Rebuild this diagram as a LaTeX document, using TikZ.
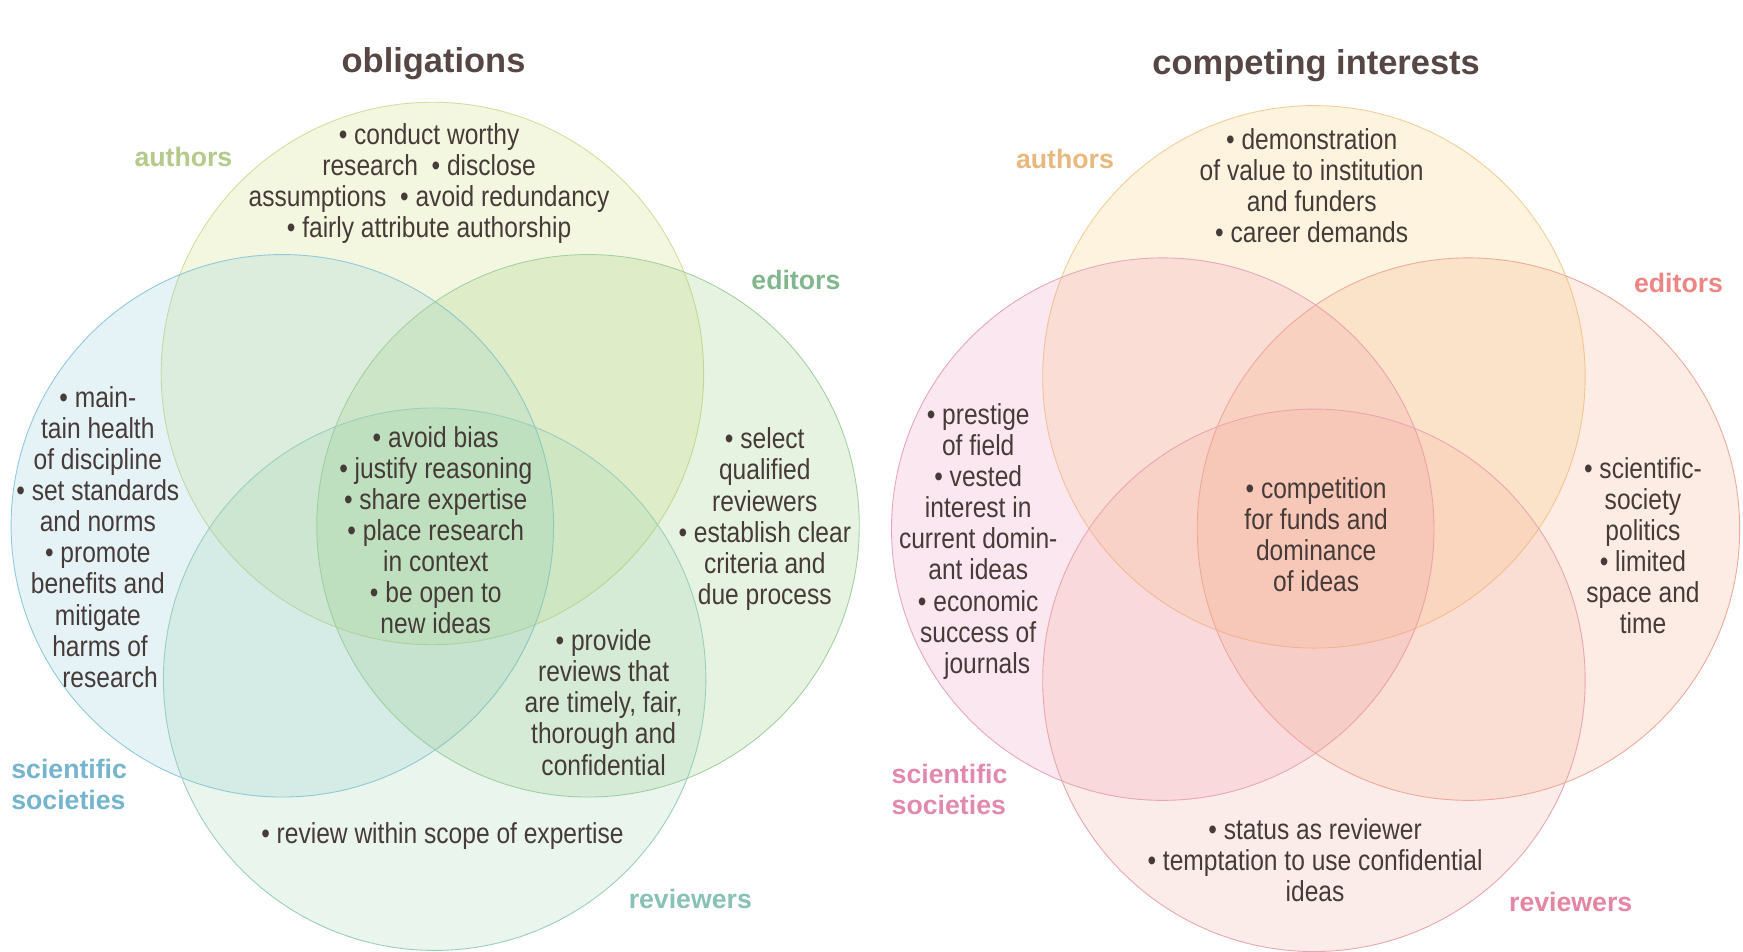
\documentclass[tikz,border=0pt]{standalone}
\usepackage{fontspec}
\setmainfont{Liberation Sans}
\newfontfamily\condfont{Liberation Sans}[FakeStretch=0.85]
% text colours
\definecolor{txt}{HTML}{463B38}
\definecolor{ttlc}{HTML}{574744}
% left diagram
\definecolor{fAL}{HTML}{C7D75B}\definecolor{dAL}{HTML}{D3DE9C}\definecolor{lAL}{HTML}{B5C98A}
\definecolor{fSL}{HTML}{7CC2D2}\definecolor{dSL}{HTML}{8FCADC}\definecolor{lSL}{HTML}{74B4CD}
\definecolor{fEL}{HTML}{83C363}\definecolor{dEL}{HTML}{A3D1A1}\definecolor{lEL}{HTML}{82B78D}
\definecolor{fRL}{HTML}{8BCBA3}\definecolor{dRL}{HTML}{9ACFBE}\definecolor{lRL}{HTML}{88C1B7}
% right diagram
\definecolor{fAR}{HTML}{F5C056}\definecolor{dAR}{HTML}{F3CF97}\definecolor{lAR}{HTML}{E8B97F}
\definecolor{fSR}{HTML}{EE82AE}\definecolor{dSR}{HTML}{E9A6C0}\definecolor{lSR}{HTML}{E389B0}
\definecolor{fER}{HTML}{F59E6E}\definecolor{dER}{HTML}{EFAA9C}\definecolor{lER}{HTML}{EC8584}
\definecolor{fRR}{HTML}{F29E8E}\definecolor{dRR}{HTML}{EAA6B2}\definecolor{lRR}{HTML}{E486A3}
\tikzset{
  disc/.style={circle, minimum size=488pt, inner sep=0pt, line width=0.8pt, fill opacity=0.19},
  body/.style={font=\condfont\fontsize{26}{28}\selectfont, text=txt, align=center, inner sep=0pt},
  lab/.style={font=\bfseries\fontsize{24}{28}\selectfont, inner sep=0pt, align=left},
  ttl/.style={font=\bfseries\fontsize{31}{36}\selectfont, text=ttlc, inner sep=0pt},
}
\begin{document}
\begin{tikzpicture}[x=1pt,y=-1pt]
\useasboundingbox[fill=white] (0,0) rectangle (1568,856);

% ---------- left diagram: obligations ----------
\node[disc, fill=fAL, draw=dAL] (aL) at (389,336) {};
\node[disc, fill=fSL, draw=dSL] (sL) at (254,473) {};
\node[disc, fill=fEL, draw=dEL] (eL) at (529,473) {};
\node[disc, fill=fRL, draw=dRL] (rL) at (391,611) {};

\node[ttl] (tiL) at (390,57) {obligations};
\node[lab, text=lAL] (laL) at (165,141) {authors};
\node[lab, text=lEL] (leL) at (716,252) {editors};
\node[lab, text=lSL, anchor=west] (lsL) at (10,706) {scientific\\societies};
\node[lab, text=lRL] (lrL) at (621,809) {reviewers};

\node[body] (xaL) at (386,165) {• conduct worthy\\research~~• disclose\\assumptions~~• avoid redundancy\\• fairly attribute authorship};
\node[body] (xsL) at (88,483) {• main-\\tain health\\of discipline\\• set standards\\and norms\\• promote\\benefits and\\mitigate\\\hspace*{4pt}harms of\\\hspace*{22pt}research};
\node[body] (xcL) at (392,477) {• avoid bias\\• justify reasoning\\• share expertise\\• place research\\in context\\• be open to\\new ideas};
\node[body] (xeL) at (688,467) {• select\\qualified\\reviewers\\• establish clear\\criteria and\\due process};
\node[body] (xerL) at (543,632) {• provide\\reviews that\\are timely, fair,\\thorough and\\confidential};
\node[body] (xrL) at (398,752) {• review within scope of expertise};

% ---------- right diagram: competing interests ----------
\node[disc, fill=fAR, draw=dAR] (aR) at (1182,339) {};
\node[disc, fill=fSR, draw=dSR] (sR) at (1046,476) {};
\node[disc, fill=fER, draw=dER] (eR) at (1321,476) {};
\node[disc, fill=fRR, draw=dRR] (rR) at (1182,612) {};

\node[ttl] (tiR) at (1184,59) {competing interests};
\node[lab, text=lAR] (laR) at (958,143) {authors};
\node[lab, text=lER] (leR) at (1510,255) {editors};
\node[lab, text=lSR, anchor=west] (lsR) at (802,710) {scientific\\societies};
\node[lab, text=lRR] (lrR) at (1413,811) {reviewers};

\node[body] (xaR) at (1180,167) {• demonstration\\of value to institution\\and funders\\• career demands};
\node[body] (xsR) at (880,487) {• prestige\\of field\\• vested\\interest in\\current domin-\\ant ideas\\• economic\\success of\\\hspace*{16pt}journals};
\node[body] (xcR) at (1184,481) {• competition\\for funds and\\dominance\\of ideas};
\node[body] (xeR) at (1478,491) {• scientific-\\society\\politics\\• limited\\space and\\time};
\node[body] (xrR) at (1183,774) {• status as reviewer\\• temptation to use confidential\\ideas};
\end{tikzpicture}
\end{document}
